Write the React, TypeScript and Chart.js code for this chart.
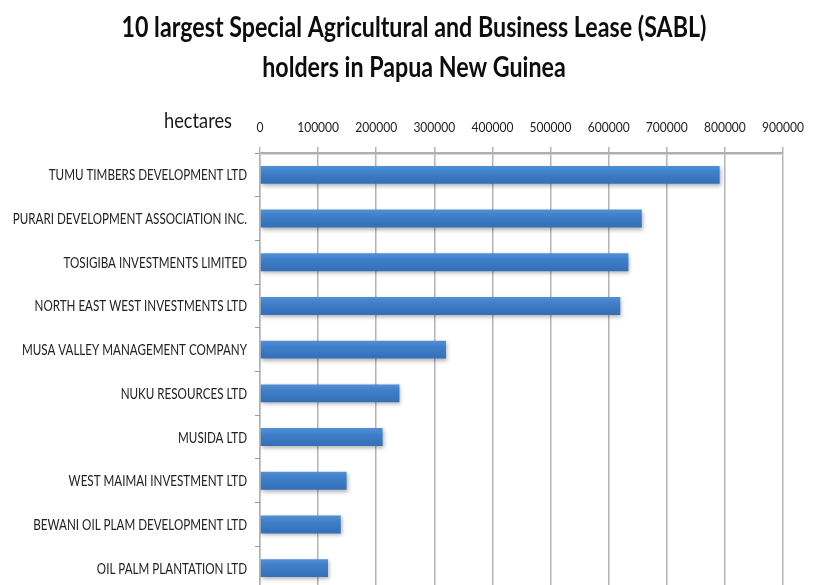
import React, { useEffect, useRef } from "react";
import { Chart, registerables } from "chart.js";

Chart.register(...registerables);

const titleLines = [
  "10 largest Special Agricultural and Business Lease (SABL)",
  "holders in Papua New Guinea",
];
const unitLabel = "hectares";
const companies = [
  "TUMU TIMBERS DEVELOPMENT LTD",
  "PURARI DEVELOPMENT ASSOCIATION INC.",
  "TOSIGIBA INVESTMENTS LIMITED",
  "NORTH EAST WEST INVESTMENTS LTD",
  "MUSA VALLEY MANAGEMENT COMPANY",
  "NUKU RESOURCES LTD",
  "MUSIDA LTD",
  "WEST MAIMAI INVESTMENT LTD",
  "BEWANI OIL PLAM DEVELOPMENT LTD",
  "OIL PALM PLANTATION LTD",
];
const hectares = [791000, 657000, 634000, 620000, 320000, 240000, 211000, 149000, 139000, 117000];
const axisMax = 900000;
const axisStep = 100000;

const FONT = "Lato, 'Open Sans', 'Liberation Sans', sans-serif";

function squished(
  ctx: CanvasRenderingContext2D,
  text: string,
  x: number,
  y: number,
  font: string,
  sx: number,
  align: CanvasTextAlign
) {
  ctx.save();
  ctx.font = font;
  ctx.textAlign = align;
  ctx.textBaseline = "alphabetic";
  ctx.translate(x, y);
  ctx.scale(sx, 1);
  ctx.fillText(text, 0, 0);
  ctx.restore();
}

export default function App() {
  const ref = useRef<HTMLCanvasElement | null>(null);

  useEffect(() => {
    const canvas = ref.current;
    if (!canvas) return;

    const decor = {
      id: "decor",
      beforeDatasetsDraw(chart: any) {
        const meta = chart.getDatasetMeta(0);
        const ctx = chart.ctx;
        meta.data.forEach((bar: any) => {
          const top = bar.y - bar.height / 2;
          const bottom = bar.y + bar.height / 2;
          const g = ctx.createLinearGradient(0, top, 0, bottom);
          g.addColorStop(0, "#5190d3");
          g.addColorStop(0.4, "#3e7dc8");
          g.addColorStop(1, "#346fb8");
          bar.options.backgroundColor = g;
        });
        ctx.save();
        ctx.shadowColor = "rgba(0,0,0,0.3)";
        ctx.shadowBlur = 4;
        ctx.shadowOffsetX = 1;
        ctx.shadowOffsetY = 2;
      },
      afterDatasetsDraw(chart: any) {
        chart.ctx.restore();
      },
      afterDraw(chart: any) {
        const ctx = chart.ctx;
        const xs = chart.scales.x;
        const ys = chart.scales.y;
        ctx.save();
        ctx.fillStyle = "#0d0d0d";
        const cx = 414;
        squished(ctx, titleLines[0], cx, 37, `bold 28px ${FONT}`, 0.83, "center");
        squished(ctx, titleLines[1], cx, 77, `bold 28px ${FONT}`, 0.83, "center");
        ctx.fillStyle = "#1a1a1a";
        squished(ctx, unitLabel, xs.left - 28, 128, `21px ${FONT}`, 0.87, "right");
        ctx.fillStyle = "#222";
        xs.ticks.forEach((t: any) => {
          squished(ctx, String(t.value), xs.getPixelForValue(t.value), 132, `14px ${FONT}`, 0.86, "center");
        });
        ys.getLabels().forEach((lab: string, i: number) => {
          squished(ctx, lab, ys.left + ys.width - 13, ys.getPixelForTick(i) + 5.5, `15.5px ${FONT}`, 0.75, "right");
        });
        ctx.restore();
      },
    };

    const chart = new Chart(canvas, {
      type: "bar",
      data: {
        labels: companies,
        datasets: [
          {
            data: hectares,
            backgroundColor: () => "#3f7ec8",
            borderWidth: 0,
            barPercentage: 0.41,
            categoryPercentage: 1,
          },
        ],
      },
      options: {
        indexAxis: "y",
        responsive: false,
        animation: false,
        devicePixelRatio: 1,
        layout: { padding: { top: 113, right: 33, bottom: 2, left: 0 } },
        plugins: {
          legend: { display: false },
          title: { display: false },
          tooltip: { enabled: false },
        },
        scales: {
          x: {
            position: "top",
            min: 0,
            max: axisMax,
            afterFit(scale: any) {
              scale.height = 40;
            },
            ticks: { display: false, stepSize: axisStep },
            grid: {
              color: "#b4b4b4",
              lineWidth: 1.5,
              tickLength: 6,
            },
            border: { color: "#b0b0b0", width: 2.5 },
          },
          y: {
            afterFit(scale: any) {
              scale.width = 260;
            },
            ticks: { display: false },
            grid: {
              drawOnChartArea: false,
              color: "#9a9a9a",
              tickLength: 5,
            },
            border: { color: "#c4c4c4", width: 1 },
          },
        },
      },
      plugins: [decor],
    });
    return () => chart.destroy();
  }, []);

  return (
    <div
      style={{
        position: "fixed",
        left: 0,
        top: 0,
        width: 816,
        height: 585,
        overflow: "hidden",
        background: "#fff",
      }}
    >
      <canvas ref={ref} width={816} height={592} style={{ display: "block" }} />
    </div>
  );
}
